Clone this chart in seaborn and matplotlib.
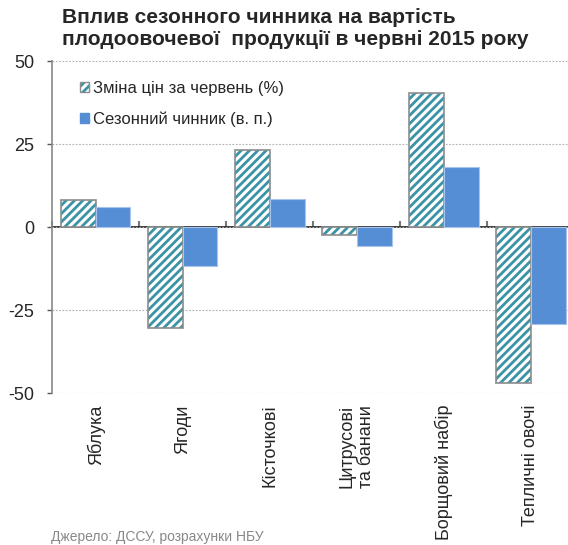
import pandas as pd
import seaborn as sns
import matplotlib.pyplot as plt
from matplotlib.colors import to_rgba
from matplotlib.patches import Patch

# дані
categories = ['Яблука', 'Ягоди', 'Кісточкові', 'Цитрусові\nта банани',
              'Борщовий набір', 'Тепличні овочі']
price_change = [8.1, -30.4, 23.2, -2.4, 40.4, -46.7]
seasonal = [6.0, -11.7, 8.4, -5.7, 18.1, -29.2]
series_names = ['Зміна цін за червень (%)', 'Сезонний чинник (в. п.)']
yticks = [-50, -25, 0, 25, 50]

df = pd.DataFrame({
    'cat': categories * 2,
    'val': price_change + seasonal,
    'series': [series_names[0]] * 6 + [series_names[1]] * 6,
})

sns.set_theme(style='white')
plt.rcParams['font.family'] = ['Liberation Sans', 'DejaVu Sans']
plt.rcParams['hatch.linewidth'] = 2.0

teal = '#3a93a6'
blue = '#558ed5'

fig = plt.figure(figsize=(5.68, 5.45), dpi=100)
ax = fig.add_axes([0.0915, 0.278, 0.92, 0.610])

sns.barplot(data=df, x='cat', y='val', hue='series', palette=['white', blue],
            width=0.8, gap=0, ax=ax, legend=False, saturation=1)

# штрихування першого ряду
for p in ax.containers[0]:
    p.set_facecolor('white')
    p.set_edgecolor('#8c8c8c')
    p.set_linewidth(1.2)
    p.set_hatch('////')
    p._hatch_color = to_rgba(teal)
for p in ax.containers[1]:
    p.set_edgecolor('#a9c4ea')
    p.set_linewidth(0.8)

ax.set_ylim(-50, 50)
ax.set_xlim(-0.5, len(categories) - 0.5)
ax.set_yticks(yticks)
ax.set_yticklabels([str(t) for t in yticks], fontsize=13)
ax.yaxis.grid(True, linestyle=(0, (1.5, 1.5)), color='#b0b0b0', linewidth=0.8)
ax.set_axisbelow(True)
ax.tick_params(axis='y', left=True, length=3.5, color='#555555', width=1, pad=9)
ax.tick_params(axis='x', bottom=False, labelsize=13, pad=2)
ax.set_xticks(range(len(categories)))
ax.set_xticklabels(categories, rotation=90, ha='center', va='top',
                   multialignment='center')
ax.set_xlabel('')
ax.set_ylabel('')
for s in ['top', 'right', 'bottom']:
    ax.spines[s].set_visible(False)
ax.spines['left'].set_color('#888888')
ax.spines['left'].set_linewidth(1.2)

# вісь категорій на нулі
sec = ax.secondary_xaxis(0.5)
sec.set_xticks([i - 0.5 for i in range(len(categories) + 1)])
sec.set_xticklabels([])
sec.tick_params(length=4, color='#777777', width=1.5, direction='out')
sec.spines['bottom'].set_color('black')
sec.spines['bottom'].set_linewidth(1.3)

handles = [Patch(facecolor='white', edgecolor='#8c8c8c', hatch='////'),
           Patch(facecolor=blue, edgecolor=blue)]
leg = ax.legend(handles, series_names, loc='upper left', frameon=False,
                fontsize=12, handlelength=0.55, handleheight=0.55,
                handletextpad=0.25, labelspacing=0.95,
                bbox_to_anchor=(0.025, 0.985))
leg.get_patches()[0]._hatch_color = to_rgba(teal)

fig.text(0.109, 0.985,
         'Вплив сезонного чинника на вартість\nплодоовочевої  продукції в червні 2015 року',
         fontsize=15, fontweight='bold', ha='left', va='top', linespacing=1.2)
fig.text(0.09, 0.002, 'Джерело: ДССУ, розрахунки НБУ', fontsize=10,
         color='#888888', ha='left', va='bottom')

fig.savefig('out.png', dpi=100)
